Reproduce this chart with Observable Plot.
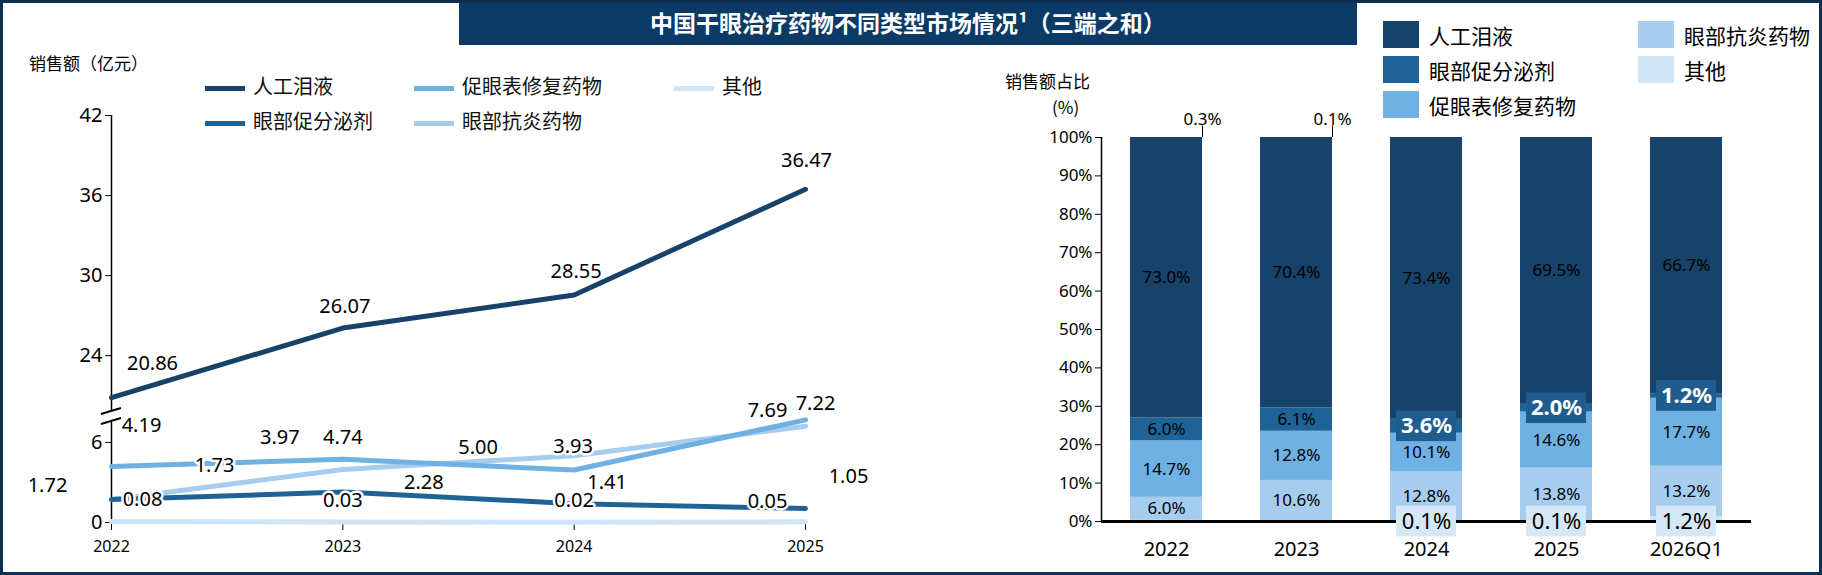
<!DOCTYPE html>
<html><head><meta charset="utf-8">
<script src="https://cdn.jsdelivr.net/npm/d3@7"></script>
<script src="https://cdn.jsdelivr.net/npm/@observablehq/plot@0.6"></script>
<style>
body{margin:0;font-family:"Noto Sans CJK SC","Noto Sans",sans-serif;background:#fff}
#wrap{position:relative;width:1822px;height:575px;overflow:hidden}
#frame{position:absolute;left:0;top:0;width:1816px;height:569px;border:3px solid #0e2f4f;pointer-events:none}
.abs{position:absolute;white-space:nowrap}
#title{left:459px;top:0;width:898px;height:45px;background:#0b3a66;color:#fff;font-weight:bold;font-size:23px;line-height:45px;text-align:center;font-family:"Noto Sans CJK SC",serif}
.lg{font-size:20px;color:#111}
svg{overflow:visible}
</style></head><body>
<div id="wrap">
 <div id="left" class="abs" style="left:0;top:0"></div>
 <div id="right" class="abs" style="left:830px;top:0"></div>
 <div id="title" class="abs">中国干眼治疗药物不同类型市场情况¹（三端之和）</div>
 <div id="legL"></div><div id="legR"></div>
 <div class="abs" style="left:29px;top:50px;font-size:17px">销售额（亿元）</div>
 <div class="abs" style="left:1005px;top:68px;font-size:17px">销售额占比</div>
 <div class="abs" style="left:1052px;top:94px;font-size:17px">(%)</div>
 <svg class="abs" style="left:96px;top:405px" width="30" height="22"><rect x="8" y="5" width="14" height="12" fill="#fff"/><line x1="5" y1="9" x2="25" y2="3" stroke="#000" stroke-width="2"/><line x1="5" y1="19" x2="25" y2="13" stroke="#000" stroke-width="2"/></svg>
 <div id="frame"></div>
</div>
<script>
const years = [2022, 2023, 2024, 2025];
const seriesNames = ["人工泪液", "眼部促分泌剂", "促眼表修复药物", "眼部抗炎药物", "其他"];
const colors = ["#17426a", "#1f6396", "#6eb1e2", "#a6cdee", "#cfe4f5"];
const tears = [20.86, 26.07, 28.55, 36.47];
const secret = [1.72, 2.28, 1.41, 1.05];
const repair = [4.19, 4.74, 3.93, 7.69];
const antiInf = [1.73, 3.97, 5.00, 7.22];
const other = [0.08, 0.03, 0.02, 0.05];
const yTicks = [0, 6, 24, 30, 36, 42];

const periods = ["2022", "2023", "2024", "2025", "2026Q1"];
const shOther = [0.3, 0.1, 0.1, 0.1, 1.2];
const shAnti = [6.0, 10.6, 12.8, 13.8, 13.2];
const shRepair = [14.7, 12.8, 10.1, 14.6, 17.7];
const shSecret = [6.0, 6.1, 3.6, 2.0, 1.2];
const shTears = [73.0, 70.4, 73.4, 69.5, 66.7];
const pctTicks = d3.range(0, 101, 10);

// label offsets (px) per series/year
const offs = {
  "人工泪液": [[41,-34],[2,-21],[2,-23],[1,-29]],
  "眼部促分泌剂": [[-64,-14],[81,-9],[33,-21],[43,-32]],
  "促眼表修复药物": [[30,-41],[0,-22],[-1,-23],[-38,-9]],
  "眼部抗炎药物": [[103,-34],[-63,-32],[-96,-8],[10,-23]],
  "其他": [[31,-22],[0,-22],[0,-22],[-38,-20]]
};

// broken axis: values above the break are shifted down
const brk = v => v > 12 ? v - 11.5 : v;
const lineData = [];
[tears, secret, repair, antiInf, other].forEach((arr, i) =>
  arr.forEach((v, j) => lineData.push({s: seriesNames[i], year: years[j], v, yy: brk(v),
    dx: offs[seriesNames[i]][j][0], dy: offs[seriesNames[i]][j][1]})));
const color = {domain: seriesNames, range: colors};

const left = Plot.plot({
  width: 830, height: 575, marginLeft: 111, marginRight: 25, marginTop: 115, marginBottom: 53,
  style: {fontFamily: "Noto Sans, sans-serif", fontSize: "20px", color: "#000", background: "transparent", overflow: "visible"},
  x: {domain: [2022, 2025], ticks: years, tickFormat: d => String(d), tickSize: 8, tickPadding: 10, label: null},
  y: {domain: [0, brk(42)], ticks: yTicks.map(brk), tickFormat: (d, i) => yTicks[i], tickSize: 6, label: null},
  color,
  marks: [
    Plot.ruleX([2022], {stroke: "#000", strokeWidth: 1.5}),
    Plot.ruleY([0], {stroke: "#000", strokeWidth: 1.5}),
    Plot.line(lineData.slice().reverse(), {x: "year", y: "yy", z: "s", stroke: "s", strokeWidth: 5}),
    Plot.text(lineData, {x: "year", y: "yy", text: d => d.v.toFixed(2), fontSize: 20,
      stroke: "#fff", strokeWidth: 5, fill: "#000"}),
  ]
});
document.getElementById("left").append(left);
// per-label offsets
left.querySelectorAll("g[aria-label=text] text").forEach((t, i) => {
  const d = lineData[i];
  t.setAttribute("transform", (t.getAttribute("transform") || "") + ` translate(${d.dx},${d.dy})`);
});

// right stacked bars
const barData = [];
[shOther, shAnti, shRepair, shSecret, shTears].forEach((arr, k) => {
  const name = ["其他", "眼部抗炎药物", "促眼表修复药物", "眼部促分泌剂", "人工泪液"][k];
  arr.forEach((v, j) => barData.push({p: periods[j], s: name, v}));
});
const mids = [];
periods.forEach(p => {
  let acc = 0;
  barData.filter(d => d.p === p).forEach(d => { mids.push({...d, mid: acc + d.v / 2}); acc += d.v; });
});
const normal = mids.filter(d => !(d.s === "其他") && !(d.s === "眼部促分泌剂" && d.v < 5));
const smallSecret = mids.filter(d => d.s === "眼部促分泌剂" && d.v < 5);
const otherTop = mids.filter(d => d.s === "其他" && (d.p === "2022" || d.p === "2023"));
const otherBottom = mids.filter(d => d.s === "其他" && d.p !== "2022" && d.p !== "2023");

const right = Plot.plot({
  width: 992, height: 575, marginLeft: 271, marginRight: 71, marginTop: 137, marginBottom: 54,
  style: {fontFamily: "Noto Sans, sans-serif", fontSize: "17px", color: "#000", background: "transparent", overflow: "visible"},
  x: {domain: periods, paddingInner: 0.45, paddingOuter: 0.225, tickSize: 0, tickPadding: 20, label: null},
  y: {domain: [0, 100], ticks: pctTicks, tickFormat: d => d + "%", tickSize: 6, label: null},
  color,
  marks: [
    Plot.barY(barData, {x: "p", y: "v", fill: "s", order: null}),
    Plot.ruleX(["2022"], {stroke: "#000", dx: -65, strokeWidth: 1.5}),
    Plot.ruleY([0], {stroke: "#000", strokeWidth: 3}),
    Plot.text(normal, {x: "p", y: "mid", text: d => d.v.toFixed(1) + "%", fontSize: 17, fill: "#000"}),
    Plot.rectY(smallSecret, {x: "p", y1: d => d.mid - 4, y2: d => d.mid + 4, fill: "#1f5d90", insetLeft: 6, insetRight: 6}),
    Plot.text(smallSecret, {x: "p", y: "mid", text: d => d.v.toFixed(1) + "%", fontSize: 22, fontWeight: "bold", fill: "#fff"}),
    Plot.ruleX(otherTop, {x: "p", y1: 100, y2: 103, dx: 36, stroke: "#000"}),
    Plot.text(otherTop, {x: "p", y: 100, text: d => d.v.toFixed(1) + "%", fontSize: 17, dx: 36, dy: -18}),
    Plot.rectY(otherBottom, {x: "p", y1: -4, y2: 4, fill: "#d6e8f7", insetLeft: 6, insetRight: 6}),
    Plot.text(otherBottom, {x: "p", y: 0, text: d => d.v.toFixed(1) + "%", fontSize: 22, fill: "#000"}),
  ]
});
right.querySelectorAll("g[aria-label='x-axis tick label'] text").forEach(t => t.style.fontSize = "20px");
left.querySelectorAll("g[aria-label='x-axis tick label'] text").forEach(t => t.style.fontSize = "16px");
document.getElementById("right").append(right);

// legends
const legL = [["人工泪液", 205, 85], ["促眼表修复药物", 414, 85], ["其他", 674, 85], ["眼部促分泌剂", 205, 120], ["眼部抗炎药物", 414, 120]];
document.getElementById("legL").innerHTML = legL.map(([n, x, y]) =>
  `<div class="abs lg" style="left:${x}px;top:${y - 14}px"><span style="display:inline-block;width:40px;height:5px;background:${colors[seriesNames.indexOf(n)]};vertical-align:middle;margin-right:8px"></span>${n}</div>`).join("");
const legR = [["人工泪液", 1383, 35], ["眼部促分泌剂", 1383, 70], ["促眼表修复药物", 1383, 105], ["眼部抗炎药物", 1638, 35], ["其他", 1638, 70]];
document.getElementById("legR").innerHTML = legR.map(([n, x, y]) =>
  `<div class="abs" style="left:${x}px;top:${y - 14}px;font-size:21px;line-height:28px"><span style="display:inline-block;width:36px;height:27px;background:${colors[seriesNames.indexOf(n)]};vertical-align:top;margin-right:10px"></span>${n}</div>`).join("");
</script>
</body></html>
